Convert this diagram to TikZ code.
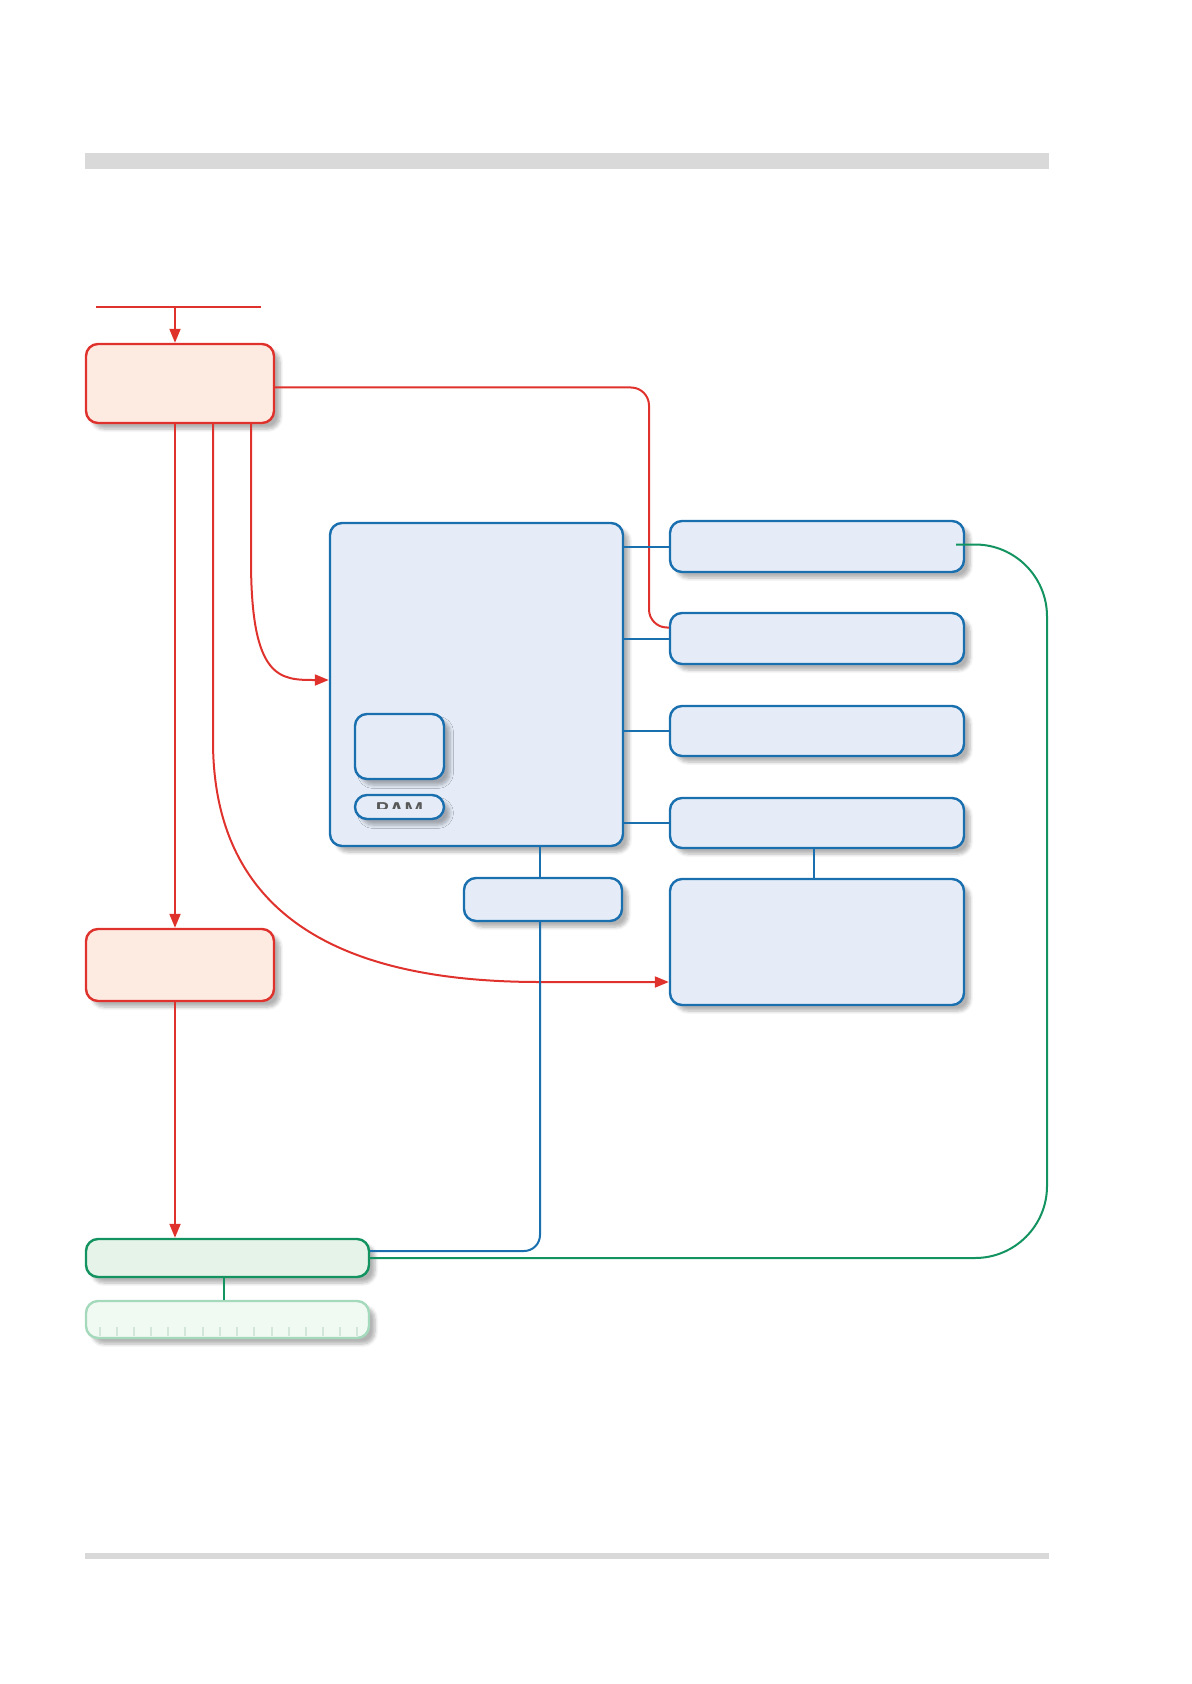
\documentclass[tikz,border=0pt]{standalone}
\usetikzlibrary{arrows.meta,fit,shadows.blur}
\definecolor{redline}{HTML}{E0322D}
\definecolor{redfill}{HTML}{FDEBE2}
\definecolor{blueline}{HTML}{1A6FAF}
\definecolor{bluefill}{HTML}{E5ECF7}
\definecolor{greenline}{HTML}{139360}
\definecolor{greenfill}{HTML}{E6F3E9}
\definecolor{lgline}{HTML}{A5D9BC}
\definecolor{lgfill}{HTML}{F1F9F3}
\definecolor{lgtick}{HTML}{D2E6DA}
\definecolor{barcol}{HTML}{D9D9DA}
\tikzset{
  box/.style={rectangle, rounded corners=6pt, line width=1.2pt, inner sep=0pt,
    blur shadow={shadow xshift=3pt, shadow yshift=-3pt, shadow blur steps=6, shadow opacity=30}},
  redbox/.style={box, draw=redline, fill=redfill},
  bluebox/.style={box, draw=blueline, fill=bluefill},
  greenbox/.style={box, draw=greenline, fill=greenfill},
  lgbox/.style={box, draw=lgline, fill=lgfill},
  redc/.style={draw=redline, line width=1pt},
  redarrow/.style={redc, -{Triangle[length=7pt,width=5.5pt]}},
  bluec/.style={draw=blueline, line width=1pt},
  greenc/.style={draw=greenline, line width=1pt},
}
\begin{document}
\begin{tikzpicture}[x=0.5pt,y=-0.5pt]
\useasboundingbox (0,0) rectangle (1191,1684);
% bars
\fill[barcol] (85,153) rectangle (1049,169);
\fill[barcol] (85,1553) rectangle (1049,1559);
% boxes
\node[redbox, fit={(86,344) (274,423)}] (r1) {};
\node[redbox, fit={(86,929) (274,1001)}] (r2) {};
\node[bluebox, fit={(330,523) (623,846)}] (big) {};
\node[bluebox, fit={(355,714) (444,779)}] (cpu) {};
\node[bluebox, fit={(355,795) (444,819)}] (ram) {};
\node[bluebox, fit={(670,521) (964,572)}] (bA) {};
\node[bluebox, fit={(670,613) (964,664)}] (bB) {};
\node[bluebox, fit={(670,706) (964,756)}] (bC) {};
\node[bluebox, fit={(670,798) (964,848)}] (bD) {};
\node[bluebox, fit={(670,879) (964,1005)}] (bE) {};
\node[bluebox, fit={(464,878) (622,921)}] (sm) {};
\node[greenbox, fit={(86,1239) (369,1277)}] (g1) {};
\node[lgbox, fit={(86,1301) (369,1338)}] (g2) {};
% RAM label (partly hidden)
\begin{scope}
  \clip (355,797) rectangle (444,808);
  \node[font=\sffamily\bfseries, text=black!65, inner sep=0pt] (ramtxt) at (399.5,810) {RAM};
\end{scope}
% ticks
\foreach \x in {100,117,134,151,168,185,203,220,237,254,272,289,306,323,340,357}
  \draw[lgtick, line width=0.6pt] (\x,1327) -- (\x,1336);
% coordinates
\coordinate (inL) at (96,307);
\coordinate (inR) at (261,307);
\coordinate (ax) at (175,307);
\coordinate (bx) at (213,0);
\coordinate (cx) at (251,0);
\coordinate (k1) at (649,0);
\coordinate (vx) at (540,0);
\coordinate (gx) at (1047,0);
% input
\draw[redc] (inL) -- (inR);
\draw[redarrow] (ax) -- (ax |- r1.north);
% red connectors
\draw[redarrow] (ax |- r1.south) -- (ax |- r2.north);
\draw[redarrow] (ax |- r2.south) -- (ax |- g1.north);
\coordinate (Bin) at ([yshift=5.5pt]bB.west);
\draw[redc, rounded corners=9pt] ([yshift=-2pt]r1.east) -- ([yshift=-2pt]r1.east -| k1) -- (k1 |- Bin) -- (Bin);
\coordinate (bigIn) at (big.west |- 0,680);
\draw[redarrow] (cx |- r1.south) -- (251,560) .. controls (251,680) and (280,680) .. (bigIn);
\coordinate (eIn) at (bE.west |- 0,982);
\draw[redarrow] (bx |- r1.south) -- (213,741) .. controls (213,940) and (380,982) .. (540,982) -- (eIn);
% blue connectors
\draw[bluec] (big.east |- bA.west) -- (bA.west);
\draw[bluec] (big.east |- bB.west) -- (bB.west);
\draw[bluec] (big.east |- bC.west) -- (bC.west);
\draw[bluec] (big.east |- bD.west) -- (bD.west);
\draw[bluec] (bD.south -| 814,0) -- (bE.north -| 814,0);
\draw[bluec] (vx |- big.south) -- (vx |- sm.north);
\coordinate (gBl) at ([yshift=3.5pt]g1.east);
\draw[bluec, rounded corners=8pt] (vx |- sm.south) -- (vx |- gBl) -- (gBl);
% green connectors
\coordinate (gA) at ([xshift=-4.5pt,yshift=1pt]bA.east);
\draw[greenc, rounded corners=36pt] (gA) -- (gA -| gx) -- (gx |- g1.east) -- (g1.east);
\draw[greenc] (g1.south -| 224,0) -- (g2.north -| 224,0);
\end{tikzpicture}
\end{document}
